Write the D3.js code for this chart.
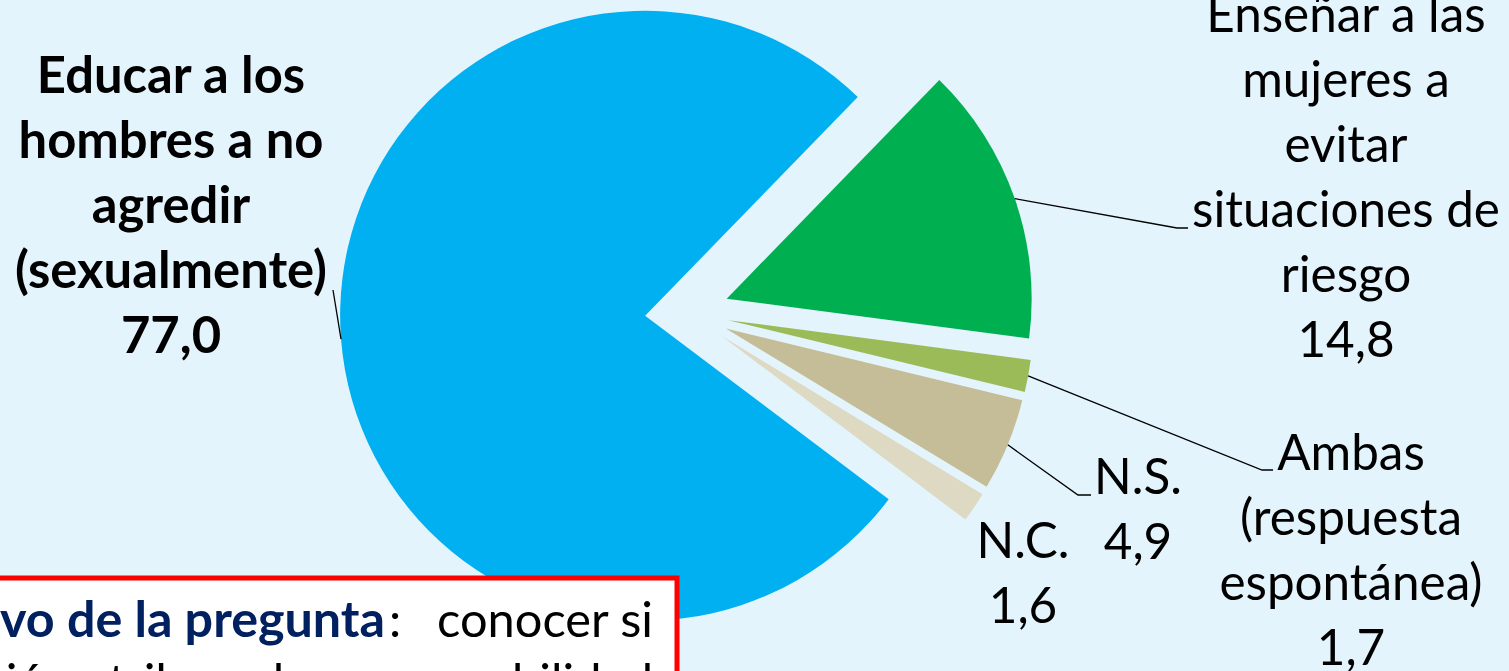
<!DOCTYPE html>
<html>
<head>
<meta charset="utf-8">
<script src="https://cdn.jsdelivr.net/npm/d3@7"></script>
<style>
  html, body { margin: 0; padding: 0; background: #e4f4fc; overflow: hidden; }
  svg { display: block; font-family: Lato, "Noto Sans", sans-serif; }
</style>
</head>
<body>
<svg id="grafico" width="1509" height="671"></svg>
<script>
const svg = d3.select("#grafico");
const width = +svg.attr("width");
const height = +svg.attr("height");

// datos
const categorias = ["Educar", "Enseñar", "Ambas", "N.S.", "N.C."];
const valores = [77.0, 14.8, 1.7, 4.9, 1.6];
const etiquetas = [
  ["Educar a los", "hombres a no", "agredir", "(sexualmente)", "77,0"],
  ["Enseñar a las", "mujeres a", "evitar", "situaciones de", "riesgo", "14,8"],
  ["Ambas", "(respuesta", "espontánea)", "1,7"],
  ["N.S.", "4,9"],
  ["N.C.", "1,6"]
];
const colores = ["#00b0f0", "#00b050", "#9bbb59", "#c4bd97", "#ddd9c3"];

// posiciones de etiquetas (cx, primera línea base, fin de la guía)
const posEtiquetas = [
  { x: 171, y: 93, bold: true, guia: [[333, 290]] },
  { x: 1346, y: 32, guia: [[1177, 228], [1188, 228]] },
  { x: 1351, y: 470, guia: [[1262, 470], [1273, 470]] },
  { x: 1138, y: 494, guia: [[1078, 495], [1091, 495]] },
  { x: 1023, y: 558, guia: null }
];

const centro = [687, 312.5];
const radio = 305;
const explosion = 42;
const inicio = 127 * Math.PI / 180;

svg.append("rect").attr("width", width).attr("height", height).attr("fill", "#e4f4fc");

const pie = d3.pie().sort(null).startAngle(inicio).endAngle(inicio + 2 * Math.PI);
const arcos = pie(valores);
const arco = d3.arc().innerRadius(0).outerRadius(radio);

function desplazamiento(d) {
  const a = (d.startAngle + d.endAngle) / 2;
  return [centro[0] + explosion * Math.sin(a), centro[1] - explosion * Math.cos(a)];
}

svg.append("g").selectAll("path")
  .data(arcos)
  .enter()
  .append("path")
  .attr("transform", d => "translate(" + desplazamiento(d) + ")")
  .attr("d", arco)
  .attr("fill", (d, i) => colores[i]);

// líneas guía
arcos.forEach((d, i) => {
  const p = posEtiquetas[i];
  if (!p.guia) return;
  const a = (d.startAngle + d.endAngle) / 2;
  const c = desplazamiento(d);
  const inicioGuia = [c[0] + radio * Math.sin(a), c[1] - radio * Math.cos(a)];
  svg.append("path")
    .datum([inicioGuia, ...p.guia])
    .attr("d", d3.line())
    .attr("fill", "none")
    .attr("stroke", "#000")
    .attr("stroke-width", 1.3);
});

// etiquetas
const tamNormal = 44, tamNegrita = 44;
const grupos = etiquetas.map((lineas, i) => {
  const p = posEtiquetas[i];
  const t = svg.append("text")
    .attr("text-anchor", "middle")
    .attr("font-weight", p.bold ? "bold" : "normal")
    .attr("font-size", p.bold ? tamNegrita : tamNormal)
    .attr("fill", "#000");
  lineas.forEach((l, j) => {
    t.append("tspan").attr("x", p.x).attr("y", p.y + j * 65).text(l);
  });
  return t;
});

// ajustar tamaño de letra a los anchos de referencia
function ancho(tspan) { return tspan.getComputedTextLength(); }
const refNormal = grupos[1].selectAll("tspan").nodes()[3];
const escalaN = 308 / ancho(refNormal);
const refNegrita = grupos[0].selectAll("tspan").nodes()[3];
const escalaB = 312 / ancho(refNegrita);
grupos.forEach((g, i) => {
  g.attr("font-size", posEtiquetas[i].bold ? tamNegrita * escalaB : tamNormal * escalaN);
});

// recuadro del objetivo
svg.append("rect")
  .attr("x", -10).attr("y", 578)
  .attr("width", 687).attr("height", 120)
  .attr("fill", "#fff")
  .attr("stroke", "#ff0000")
  .attr("stroke-width", 5);

const cuadroTam = 44;
const t3 = svg.append("text").attr("x", 653).attr("y", 637)
  .attr("text-anchor", "end").attr("font-size", cuadroTam).attr("fill", "#000")
  .text("conocer si");
const escalaC = 216 / t3.node().getComputedTextLength();
t3.attr("font-size", cuadroTam * escalaC);

// tamaño de la parte en negrita: "vo de la pregunta" ocupa de 0 a 385
const medida = svg.append("text").attr("font-size", cuadroTam).attr("font-weight", "bold")
  .text("vo de la pregunta");
const escalaNeg = 385 / medida.node().getComputedTextLength();
medida.remove();

svg.append("text").attr("x", 385).attr("y", 637)
  .attr("text-anchor", "end").attr("font-size", cuadroTam * escalaNeg)
  .attr("font-weight", "bold").attr("fill", "#002060")
  .text("Objetivo de la pregunta");
svg.append("text").attr("x", 389).attr("y", 637)
  .attr("font-size", cuadroTam * escalaC).attr("fill", "#000").text(":");
svg.append("text").attr("x", 653).attr("y", 699)
  .attr("text-anchor", "end").attr("font-size", cuadroTam * escalaC).attr("fill", "#000")
  .text("la población atribuye la responsabilidad");
</script>
</body>
</html>
